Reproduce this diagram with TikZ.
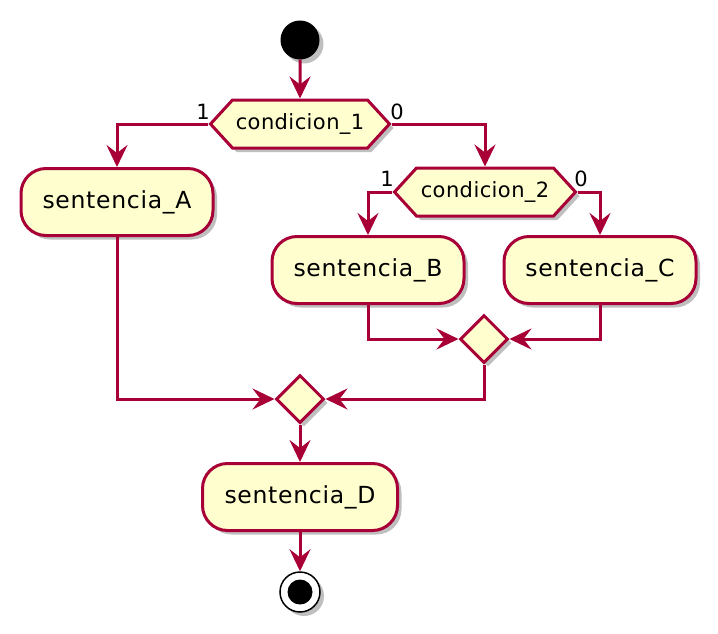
\documentclass[tikz,border=0pt]{standalone}
\usepackage{fontspec}
\setmainfont{DejaVu Sans}
\newfontfamily\actfont[LetterSpace=3]{DejaVu Sans}
\newfontfamily\condfont[LetterSpace=2]{DejaVu Sans}
\usepackage{xcolor}
\usetikzlibrary{arrows.meta,shapes.geometric,shapes.symbols,shadows}
\definecolor{umlred}{HTML}{A80036}
\definecolor{umlfill}{HTML}{FEFECE}

\begin{document}
\begin{tikzpicture}[x=1pt,y=-1pt,
    shade/.style={drop shadow={shadow xshift=4pt,shadow yshift=-4pt,opacity=0.25,fill=black}},
    act/.style={rectangle,rounded corners=25pt,draw=umlred,fill=umlfill,line width=3pt,shade,
        minimum width=192pt,minimum height=67pt,inner sep=0pt,font=\actfont\fontsize{23.5}{28}\selectfont},
    cond/.style={signal,signal to=west and east,signal pointer angle=95,draw=umlred,fill=umlfill,
        line width=3pt,shade,minimum height=48pt,inner sep=0pt,font=\condfont\fontsize{21}{25}\selectfont},
    merge/.style={diamond,aspect=1,draw=umlred,fill=umlfill,line width=3pt,shade,
        minimum width=48pt,minimum height=48pt,inner sep=0pt},
    lbl/.style={font=\condfont\fontsize{21}{25}\selectfont,inner sep=0pt},
    flow/.style={draw=umlred,line width=3pt,-{Stealth[length=22pt,width=21pt,inset=8pt]}}]
                \useasboundingbox (0,0) rectangle (718,633);

                \node (start) at (300,40) [circle,fill=black,minimum size=39pt,inner sep=0pt,shade] {};

                \node (c1) at (300,124) [cond,minimum width=179pt] {condicion\_1};
                \node (c1one) at (203,112) [lbl] {1};
                \node (c1zero) at (397,112) [lbl] {0};

                \node (sA) at (117,202) [act] {sentencia\_A};

                \node (c2) at (485,192) [cond,minimum width=181pt] {condicion\_2};
                \node (c2one) at (387,179) [lbl] {1};
                \node (c2zero) at (581,179) [lbl] {0};

                \node (sB) at (368,270) [act] {sentencia\_B};
                \node (sC) at (600,270) [act] {sentencia\_C};

                \node (m1) at (484,339) [merge] {};
                \node (m2) at (300,399) [merge] {};

                \node (sD) at (300,497) [act,minimum width=195pt] {sentencia\_D};

                \node (stop) at (300,592) [circle,draw=black,fill=white,line width=1.5pt,minimum size=40pt,inner sep=0pt,shade] {};
                \fill[black] (stop.center) circle (12.5pt);

                \draw[flow] (start) -- (c1);
                \draw[flow] (c1.west) -| (sA.north);
                \draw[flow] (c1.east) -| (c2.north);
                \draw[flow] (c2.west) -| (sB.north);
                \draw[flow] (c2.east) -| (sC.north);
                \draw[flow] (sB.south) |- (m1.west);
                \draw[flow] (sC.south) |- (m1.east);
                \draw[flow] (sA.south) |- (m2.west);
                \draw[flow] (m1.south) |- (m2.east);
                \draw[flow] (m2) -- (sD);
                \draw[flow] (sD) -- (stop);

            \end{tikzpicture}
\end{document}
